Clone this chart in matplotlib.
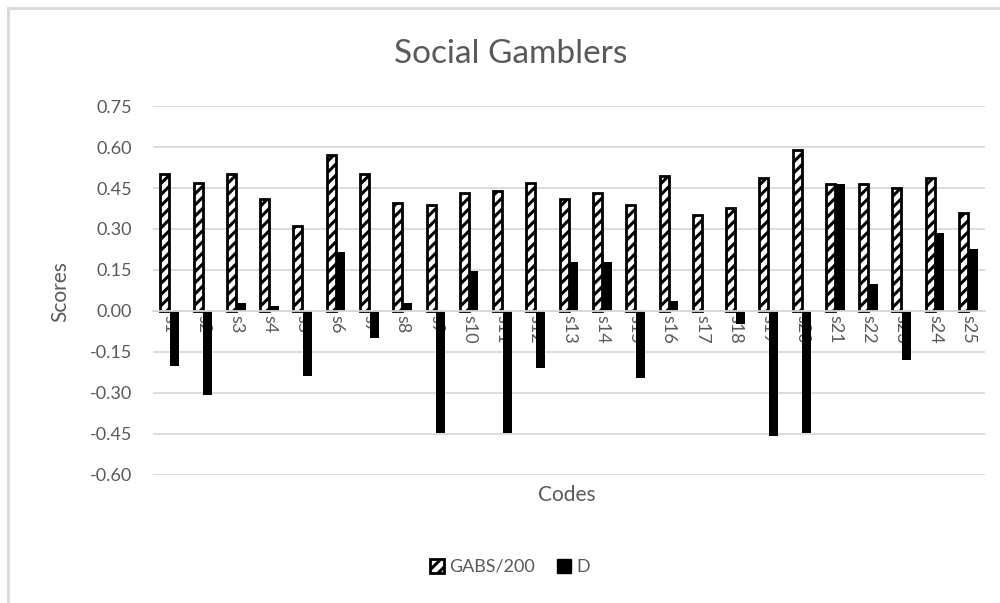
import numpy as np
import matplotlib
matplotlib.use('Agg')
import matplotlib.pyplot as plt
from matplotlib.patches import Patch
from matplotlib.lines import Line2D

plt.rcParams['font.family'] = ['Lato', 'DejaVu Sans']
plt.rcParams['hatch.linewidth'] = 2.2

# dados
codigos = ['s' + str(i) for i in range(1, 26)]
gabs = [0.50, 0.467, 0.50, 0.41, 0.312, 0.571, 0.50, 0.396, 0.388, 0.43,
        0.439, 0.467, 0.411, 0.43, 0.388, 0.495, 0.35, 0.378, 0.485, 0.589,
        0.463, 0.463, 0.449, 0.485, 0.36]
d = [-0.20, -0.307, 0.028, 0.019, -0.238, 0.217, -0.10, 0.028, -0.447, 0.146,
     -0.447, -0.21, 0.178, 0.178, -0.246, 0.038, 0.0, -0.048, -0.457, -0.447,
     0.463, 0.099, -0.179, 0.286, 0.226]
yticks = [-0.60, -0.45, -0.30, -0.15, 0.00, 0.15, 0.30, 0.45, 0.60, 0.75]

cinza = '#595959'
grade = '#d9d9d9'

fig = plt.figure(figsize=(10, 6.03), dpi=100)
ax = fig.add_axes([0.153, 0.2123, 0.832, 0.6119])

x = np.arange(len(codigos))
w = 0.27
ax.bar(x - w / 2 - 0.01, gabs, w, facecolor='white', edgecolor='black',
       hatch='///', linewidth=2, zorder=2)
ax.bar(x + w / 2 + 0.01, d, w, color='black', zorder=2)

ax.set_xlim(-0.5, len(codigos) - 0.5)
ax.set_ylim(-0.60, 0.75)
ax.set_yticks(yticks)
ax.set_yticklabels(['%.2f' % v for v in yticks])
ax.set_xticks(x)
ax.set_xticklabels(codigos)
ax.set_axisbelow(True)
ax.yaxis.grid(True, color=grade, linewidth=1.3)

for s in ['top', 'right', 'left']:
    ax.spines[s].set_visible(False)
ax.spines['bottom'].set_position(('data', 0))
ax.spines['bottom'].set_color(grade)
ax.spines['bottom'].set_linewidth(1.3)
ax.tick_params(axis='both', length=0, colors=cinza, labelsize=13)
ax.tick_params(axis='y', pad=15)
ax.tick_params(axis='x', pad=3, labelrotation=-90)
for t in ax.get_xticklabels():
    t.set_va('top')
    t.set_ha('center')

fig.text(0.511, 1 - 54 / 603, 'Social Gamblers', fontsize=24, color=cinza,
         ha='center', va='center')
fig.text(0.060, 1 - 292 / 603, 'Scores', fontsize=15, color=cinza,
         ha='center', va='center', rotation=90)
fig.text(0.567, 1 - 495 / 603, 'Codes', fontsize=15, color=cinza,
         ha='center', va='center')

itens = [Patch(facecolor='white', edgecolor='black', hatch='///', linewidth=2),
         Patch(facecolor='black', edgecolor='black')]
fig.legend(itens, ['GABS/200', 'D'], loc='center', bbox_to_anchor=(0.51, 0.06),
           ncol=2, frameon=False, fontsize=13, labelcolor=cinza,
           handlelength=0.8, handleheight=0.8, handletextpad=0.3, columnspacing=1.2)

# moldura do gráfico
fig.add_artist(Line2D([0.008, 0.008], [0, 1 - 8 / 603], color=grade, linewidth=2))
fig.add_artist(Line2D([0.008, 1], [1 - 8 / 603, 1 - 8 / 603], color=grade, linewidth=2))

fig.savefig('out.png', dpi=100)
